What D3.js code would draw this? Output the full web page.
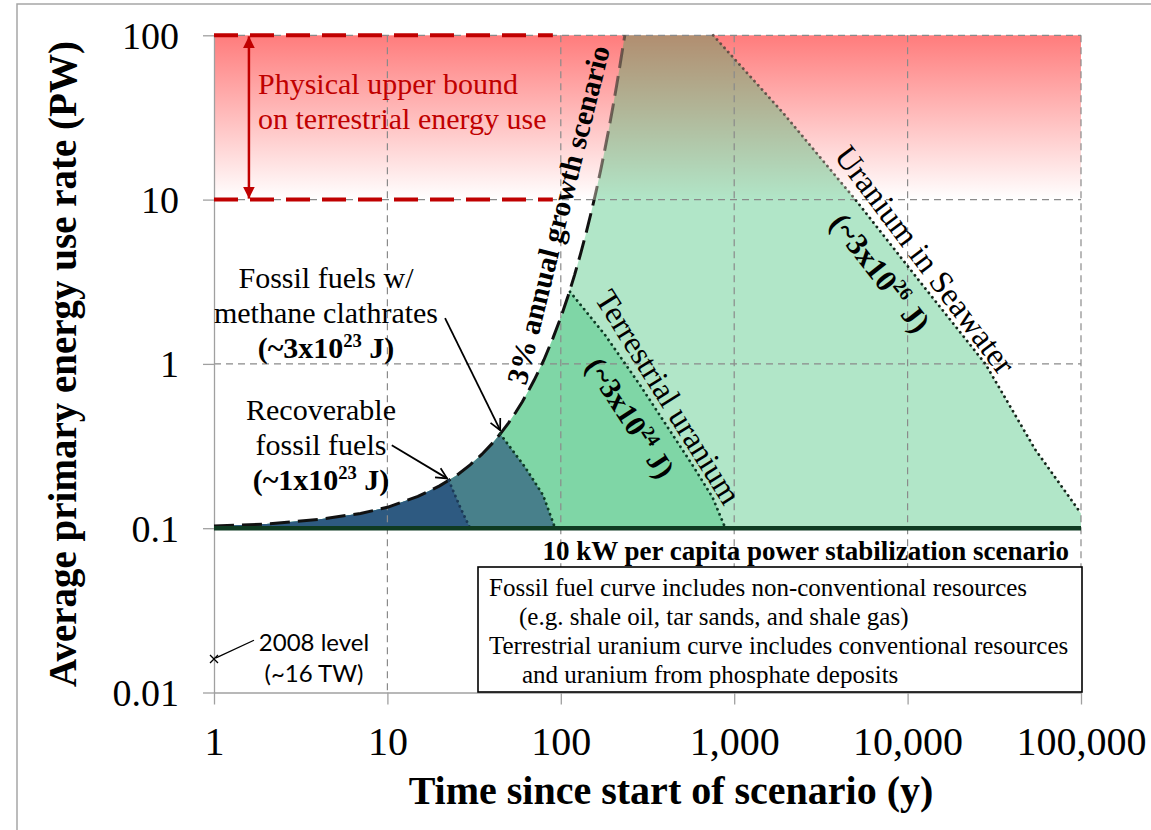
<!DOCTYPE html>
<html><head><meta charset="utf-8">
<script src="https://cdn.jsdelivr.net/npm/d3@7"></script>
<style>
html,body{margin:0;padding:0;background:#fff;}
svg{display:block;}
</style></head><body>
<svg id="chart" width="1151" height="830"></svg>
<script>
// ---------------- data ----------------
const xTickValues = [1, 10, 100, 1000, 10000, 100000];
const xTickLabels = ["1", "10", "100", "1,000", "10,000", "100,000"];
const yTickValues = [0.01, 0.1, 1, 10, 100];
const yTickLabels = ["0.01", "0.1", "1", "10", "100"];

// 3% annual growth scenario (PW vs years)
const growthYears = [1, 2, 4, 7, 10, 15, 20, 25, 30, 35, 40, 45, 50, 55, 60, 65, 70, 75, 80, 90, 100, 110, 120, 130, 140, 150, 160, 170, 180, 190, 200, 210, 220, 230, 234];
const growthPW    = [0.103, 0.106, 0.113, 0.123, 0.134, 0.156, 0.181, 0.209, 0.243, 0.281, 0.326, 0.378, 0.438, 0.508, 0.589, 0.683, 0.792, 0.918, 1.06, 1.43, 1.92, 2.58, 3.47, 4.67, 6.27, 8.43, 11.3, 15.2, 20.5, 27.5, 37.0, 49.7, 66.8, 89.8, 100];

// depletion edges of each resource
const recoverableEdgeYears = [22.6, 26.3, 30.0];
const recoverableEdgePW    = [0.195, 0.134, 0.1];
const clathrateEdgeYears   = [44.7, 62.3, 79, 92.7];
const clathrateEdgePW      = [0.375, 0.235, 0.159, 0.1];
const terrestrialEdgeYears = [113, 180, 287, 417, 581, 748, 889];
const terrestrialEdgePW    = [2.75, 1.50, 0.741, 0.406, 0.238, 0.155, 0.1];
const seawaterEdgeYears    = [757, 1920, 5000, 11850, 28100, 54600, 100000];
const seawaterEdgePW       = [100, 33.6, 10, 3.14, 1, 0.3, 0.123];

// stabilization scenario
const stabilizationYears = [1, 100000];
const stabilizationPW    = [0.1, 0.1];

// physical upper bound band
const boundYears   = [1, 90];
const upperBoundPW = [100, 100];
const lowerBoundPW = [10, 10];
const boundArrowYear = 1.59;

// 2008 level
const level2008Year = [1];
const level2008PW   = [0.016];

// ---------------- setup ----------------
const SERIF = "'Liberation Serif','Times New Roman',Times,serif";
const svg = d3.select("#chart");
const x = d3.scaleLog().domain([1, 100000]).range([214, 1081]);
const y = d3.scaleLog().domain([0.01, 100]).range([692.5, 35.3]);
const zip = (a, b) => a.map((v, i) => [v, b[i]]);
const line = d3.line().x(d => x(d[0])).y(d => y(d[1]));

const growth = zip(growthYears, growthPW);

// outer frame
svg.append("rect").attr("x", 17).attr("y", 4).attr("width", 1160).attr("height", 850)
  .attr("fill", "none").attr("stroke", "#a6a6a6").attr("stroke-width", 1.5);

const defs = svg.append("defs");
const grad = defs.append("linearGradient").attr("id", "redGrad")
  .attr("x1", 0).attr("y1", 0).attr("x2", 0).attr("y2", 1);
grad.append("stop").attr("offset", "0%").attr("stop-color", "#ff7c7c");
grad.append("stop").attr("offset", "100%").attr("stop-color", "#ffffff");

defs.append("clipPath").attr("id", "aboveBand").append("rect")
  .attr("x", 0).attr("y", 0).attr("width", 1151).attr("height", y(lowerBoundPW[0]));
defs.append("clipPath").attr("id", "belowBand").append("rect")
  .attr("x", 0).attr("y", y(lowerBoundPW[0])).attr("width", 1151).attr("height", 830);

defs.append("marker").attr("id", "redHead").attr("viewBox", "0 0 10 10")
  .attr("refX", 10).attr("refY", 5).attr("markerWidth", 12).attr("markerHeight", 12)
  .attr("markerUnits", "userSpaceOnUse").attr("orient", "auto-start-reverse")
  .append("path").attr("d", "M0,0 L10,5 L0,10 Z").attr("fill", "#c00000");
defs.append("marker").attr("id", "openHead").attr("viewBox", "0 0 12 12")
  .attr("refX", 11).attr("refY", 6).attr("markerWidth", 13).attr("markerHeight", 13)
  .attr("markerUnits", "userSpaceOnUse").attr("orient", "auto")
  .append("path").attr("d", "M1,1 L11,6 L1,11").attr("fill", "none")
  .attr("stroke", "#000").attr("stroke-width", 1.6);

// red gradient band
svg.append("rect")
  .attr("x", x(1)).attr("y", y(upperBoundPW[0]))
  .attr("width", x(100000) - x(1)).attr("height", y(lowerBoundPW[0]) - y(upperBoundPW[0]))
  .attr("fill", "url(#redGrad)");

// ---------------- filled regions ----------------
function under(tLimit, edgeT, edgeP) {
  const pts = growth.filter(d => d[0] < tLimit);
  return pts.concat(zip(edgeT, edgeP)).concat([[1, 0.1]]);
}
const seaPoly = growth.concat(zip(seawaterEdgeYears, seawaterEdgePW)).concat([[100000, 0.1], [1, 0.1]]);
svg.append("path").attr("d", line(seaPoly) + "Z").attr("fill", "rgb(18,179,88)").attr("fill-opacity", 0.33);
svg.append("path").attr("d", line(under(terrestrialEdgeYears[0], terrestrialEdgeYears, terrestrialEdgePW)) + "Z").attr("fill", "#7fd6a6");
svg.append("path").attr("d", line(under(clathrateEdgeYears[0], clathrateEdgeYears, clathrateEdgePW)) + "Z").attr("fill", "#48808b");
svg.append("path").attr("d", line(under(recoverableEdgeYears[0], recoverableEdgeYears, recoverableEdgePW)) + "Z").attr("fill", "#2e5a81");

// ---------------- grid ----------------
const grid = svg.append("g").attr("stroke", "#8a8a8a").attr("stroke-width", 1.2).attr("stroke-dasharray", "7,5");
xTickValues.slice(1).forEach(v => grid.append("line").attr("x1", x(v)).attr("x2", x(v)).attr("y1", y(100)).attr("y2", y(0.01)));
yTickValues.slice(1).forEach(v => grid.append("line").attr("x1", x(1)).attr("x2", x(100000)).attr("y1", y(v)).attr("y2", y(v)));

// ---------------- axes ----------------
const xAxis = svg.append("g").attr("transform", `translate(0,${y(0.01)})`)
  .call(d3.axisBottom(x).tickValues(xTickValues).tickFormat((d, i) => xTickLabels[i]).tickSize(12).tickSizeOuter(0).tickPadding(22));
const yAxis = svg.append("g").attr("transform", `translate(${x(1)},0)`)
  .call(d3.axisLeft(y).tickValues(yTickValues).tickFormat((d, i) => yTickLabels[i]).tickSize(11).tickSizeOuter(0).tickPadding(24));
[xAxis, yAxis].forEach(a => {
  a.attr("font-family", SERIF);
  a.select(".domain").attr("stroke", "#a0a0a0").attr("stroke-width", 1.3);
  a.selectAll(".tick line").attr("stroke", "#a0a0a0").attr("stroke-width", 1.3);
  a.selectAll("text").attr("font-family", SERIF).attr("fill", "#000");
});
xAxis.selectAll("text").attr("font-size", 40);
yAxis.selectAll("text").attr("font-size", 38).attr("dy", "0.34em");

// ---------------- lines ----------------
// growth curve: full black below the band, faded inside the band
svg.append("path").attr("d", line(growth)).attr("fill", "none").attr("stroke", "#111")
  .attr("stroke-width", 3).attr("stroke-dasharray", "20,8").attr("clip-path", "url(#belowBand)");
svg.append("path").attr("d", line(growth)).attr("fill", "none").attr("stroke", "#4a3f38")
  .attr("stroke-opacity", 0.75)
  .attr("stroke-width", 3).attr("stroke-dasharray", "20,8").attr("clip-path", "url(#aboveBand)");

function dotted(t, p, color, clip) {
  const pth = svg.append("path").attr("d", line(zip(t, p))).attr("fill", "none").attr("stroke", color)
    .attr("stroke-width", 2.8).attr("stroke-linecap", "round").attr("stroke-dasharray", "0.1,5.5");
  if (clip) pth.attr("clip-path", clip);
  return pth;
}
dotted(recoverableEdgeYears, recoverableEdgePW, "#1c3a56");
dotted(clathrateEdgeYears, clathrateEdgePW, "#0d3a24");
dotted(terrestrialEdgeYears, terrestrialEdgePW, "#0d3a24");
dotted(seawaterEdgeYears, seawaterEdgePW, "#15261b", "url(#belowBand)");
dotted(seawaterEdgeYears, seawaterEdgePW, "#4a3f38", "url(#aboveBand)").attr("stroke-opacity", 0.8);

svg.append("path").attr("d", line(zip(stabilizationYears, stabilizationPW)))
  .attr("stroke", "#0f3b22").attr("stroke-width", 4.5).attr("fill", "none");

// red bound lines & arrow
svg.append("path").attr("d", line(zip(boundYears, upperBoundPW))).attr("stroke", "#c00000")
  .attr("stroke-width", 4).attr("stroke-dasharray", "24,12").attr("fill", "none");
svg.append("path").attr("d", line(zip(boundYears, lowerBoundPW))).attr("stroke", "#c00000")
  .attr("stroke-width", 4).attr("stroke-dasharray", "24,12").attr("fill", "none");
svg.append("line").attr("x1", x(boundArrowYear)).attr("x2", x(boundArrowYear))
  .attr("y1", y(upperBoundPW[0]) + 1).attr("y2", y(lowerBoundPW[0]) - 1)
  .attr("stroke", "#c00000").attr("stroke-width", 2.5)
  .attr("marker-start", "url(#redHead)").attr("marker-end", "url(#redHead)");

// 2008 marker
const mx = x(level2008Year[0]), my = y(level2008PW[0]);
svg.append("path").attr("d", `M${mx-4},${my-4}L${mx+4},${my+4}M${mx-4},${my+4}L${mx+4},${my-4}`)
  .attr("stroke", "#000").attr("stroke-width", 1.3);
svg.append("line").attr("x1", mx + 2).attr("y1", my - 1).attr("x2", x(1.70)).attr("y2", y(0.0208))
  .attr("stroke", "#000").attr("stroke-width", 1.3);

// annotation arrows
svg.append("line").attr("x1", x(10.6)).attr("y1", y(0.32)).attr("x2", x(22.1)).attr("y2", y(0.201))
  .attr("stroke", "#000").attr("stroke-width", 1.8).attr("marker-end", "url(#openHead)");
svg.append("line").attr("x1", x(21.5)).attr("y1", y(1.90)).attr("x2", x(44.7)).attr("y2", y(0.395))
  .attr("stroke", "#000").attr("stroke-width", 1.8).attr("marker-end", "url(#openHead)");

// ---------------- text ----------------
function addText(parent, parts, size, weight, fill) {
  const t = parent.append("text").attr("font-family", SERIF).attr("font-size", size)
    .attr("font-weight", weight || "normal").attr("fill", fill || "#000");
  let shifted = false;
  parts.forEach(p => {
    const sup = Array.isArray(p);
    const s = t.append("tspan").text(sup ? p[0] : p);
    if (sup) { s.attr("font-size", size * 0.62).attr("dy", -size * 0.38); shifted = true; }
    else if (shifted) { s.attr("dy", size * 0.38); shifted = false; }
  });
  return t;
}
function centered(lines, cx, baselines, size, weight, fill) {
  lines.forEach((parts, i) => addText(svg, parts, size, weight[i], fill).attr("x", cx).attr("y", baselines[i]).attr("text-anchor", "middle"));
}
function rotated(parts, cx, cy, angle, size, weight, anchor, dyEm) {
  const g = svg.append("g").attr("transform", `translate(${cx},${cy}) rotate(${angle})`);
  addText(g, parts, size, weight).attr("text-anchor", anchor || "middle").attr("y", size * (dyEm === undefined ? 0.33 : dyEm));
}

// physical bound label
addText(svg, ["Physical upper bound"], 30, "normal", "#c00000").attr("x", 258).attr("y", 94);
addText(svg, ["on terrestrial energy use"], 30, "normal", "#c00000").attr("x", 258).attr("y", 129);

// fossil labels
centered([["Fossil fuels w/"], ["methane clathrates"], ["(~3x10", ["23"], " J)"]], 326, [288, 323, 358], 30, ["normal", "normal", "bold"]);
centered([["Recoverable"], ["fossil fuels"], ["(~1x10", ["23"], " J)"]], 321, [420, 455, 490], 30, ["normal", "normal", "bold"]);

// rotated labels
rotated(["3% annual growth scenario"], 526, 386, -76, 29.5, "bold", "start", 0);
rotated(["Terrestrial uranium"], 668, 397, 58, 32, "normal");
rotated(["(~3x10", ["24"], " J)"], 630, 418, 57, 30, "bold");
rotated(["Uranium in Seawater"], 925, 260, 53, 32.5, "normal");
rotated(["(~3x10", ["26"], " J)"], 880, 273, 52, 31, "bold");

// stabilization label
addText(svg, ["10 kW per capita power stabilization scenario"], 27, "bold").attr("x", 1069).attr("y", 560).attr("text-anchor", "end");

// note box
svg.append("rect").attr("x", 478).attr("y", 567).attr("width", 604).attr("height", 125)
  .attr("fill", "#fff").attr("stroke", "#000").attr("stroke-width", 1.6);
[["Fossil fuel curve includes non-conventional resources", 489, 596],
 ["(e.g. shale oil, tar sands, and shale gas)", 519, 625],
 ["Terrestrial uranium curve includes conventional resources", 489, 654],
 ["and uranium from phosphate deposits", 522, 683]].forEach(r =>
  addText(svg, [r[0]], 25, "normal").attr("x", r[1]).attr("y", r[2]));

// 2008 level label
const SANS = "Lato,'Open Sans','Noto Sans',sans-serif";
svg.append("text").attr("x", 314).attr("y", 651).attr("text-anchor", "middle").attr("font-family", SANS).attr("font-size", 24).text("2008 level");
svg.append("text").attr("x", 314).attr("y", 682).attr("text-anchor", "middle").attr("font-family", SANS).attr("font-size", 24).text("(~16 TW)");

// axis titles
svg.append("text").attr("x", 671).attr("y", 804).attr("text-anchor", "middle")
  .attr("font-family", SERIF).attr("font-weight", "bold").attr("font-size", 40)
  .text("Time since start of scenario (y)");
svg.append("text").attr("transform", "translate(76,364) rotate(-90)").attr("text-anchor", "middle")
  .attr("font-family", SERIF).attr("font-weight", "bold").attr("font-size", 39)
  .text("Average primary energy use rate (PW)");
</script>
</body></html>
